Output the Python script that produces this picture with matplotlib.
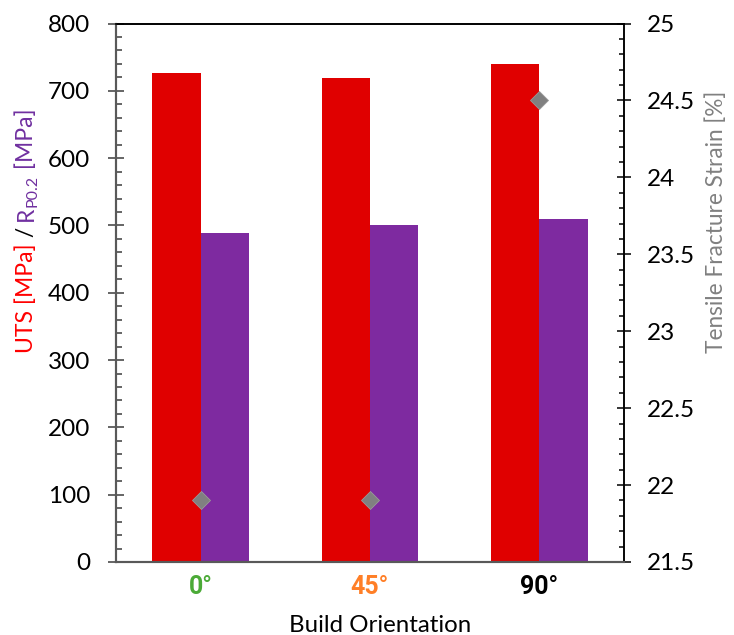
import matplotlib
matplotlib.use("Agg")
import matplotlib.pyplot as plt
import numpy as np

categories = ["0°", "45°", "90°"]
cat_colors = ["#4BAA37", "#FF7F27", "#000000"]
uts = [727, 719, 740]
rp02 = [489, 501, 510]
strain = [21.9, 21.9, 24.5]

plt.rcParams['font.family'] = ['Lato', 'DejaVu Sans']

W, H = 734, 635
fig = plt.figure(figsize=(W / 100, H / 100), dpi=100)
ax = fig.add_axes([116 / W, (H - 562) / H, (624 - 116) / W, (562 - 23.5) / H])
ax2 = ax.twinx()

x = np.arange(len(categories))
bw = 0.285
ax.bar(x - bw / 2, uts, width=bw, color="#E00000", edgecolor="none", zorder=2)
ax.bar(x + bw / 2, rp02, width=bw, color="#7E2AA0", edgecolor="none", zorder=2)
ax2.plot(x, strain, linestyle="none", marker="D", markersize=9, color="#808080",
         markeredgecolor="#9a9a9a", markeredgewidth=0.6, zorder=3)

ax.set_xlim(-0.5, 2.5)
ax.set_ylim(0, 800)
ax2.set_ylim(21.5, 25)

grey = "#595959"
ax.set_yticks(np.arange(0, 801, 100))
ax.set_yticks(np.arange(0, 801, 20), minor=True)
ax.tick_params(axis='y', which='major', direction='inout', length=11.5, width=1.3,
               color=grey, labelsize=17.5, pad=13)
ax.tick_params(axis='y', which='minor', direction='in', length=4.3, width=1.3, color=grey)
ax2.set_yticks(np.arange(21.5, 25.01, 0.5))
ax2.set_yticklabels(["21.5", "22", "22.5", "23", "23.5", "24", "24.5", "25"])
ax2.set_yticks(np.arange(21.5, 25.01, 0.1), minor=True)
ax2.tick_params(axis='y', which='major', direction='inout', length=10, width=1.1,
                color='black', labelsize=17.5, pad=11.5)
ax2.tick_params(axis='y', which='minor', direction='in', length=3.6, width=1.1, color='black')

ax.set_xticks(x)
ax.set_xticklabels(categories)
ax.tick_params(axis='x', length=0, pad=9)
for lbl, c in zip(ax.get_xticklabels(), cat_colors):
    lbl.set_color(c)
    lbl.set_fontfamily('Roboto')
    lbl.set_fontweight('bold')
    lbl.set_fontsize(18)

for a in (ax, ax2):
    a.spines['left'].set_color(grey)
    a.spines['left'].set_linewidth(1.5)
    a.spines['bottom'].set_color(grey)
    a.spines['bottom'].set_linewidth(1.5)
    a.spines['top'].set_color('black')
    a.spines['top'].set_linewidth(1.2)
    a.spines['right'].set_color('black')
    a.spines['right'].set_linewidth(1.1)

# x label
fig.text(380 / W, 1 - 632 / H, "Build Orientation", ha='center', va='baseline', fontsize=17.3)

# multicolor left label (rotated, pieces stacked upward along baseline)
purple_lbl = "#7030A0"
pieces = [("UTS [MPa]", "#FF0000", 16.5, 0),
          (" / ", "black", 16.5, 0),
          ("R", purple_lbl, 16.5, 0),
          ("P0.2", purple_lbl, 11.5, 4),
          (" [MPa]", purple_lbl, 16.5, 0)]
fig.canvas.draw()
r = fig.canvas.get_renderer()
ypix = 353
base_x = 33
for txt, c, fs, off in pieces:
    t = fig.text((base_x + off) / W, 1 - ypix / H, txt, color=c, rotation=90,
                 rotation_mode='anchor', ha='left', va='baseline', fontsize=fs)
    bb = t.get_window_extent(r)
    ypix -= bb.height

fig.text(723 / W, 1 - 353 / H, "Tensile Fracture Strain [%]", color="#808080", rotation=90,
         rotation_mode='anchor', ha='left', va='baseline', fontsize=16.3)

fig.savefig("out.png", dpi=100)
